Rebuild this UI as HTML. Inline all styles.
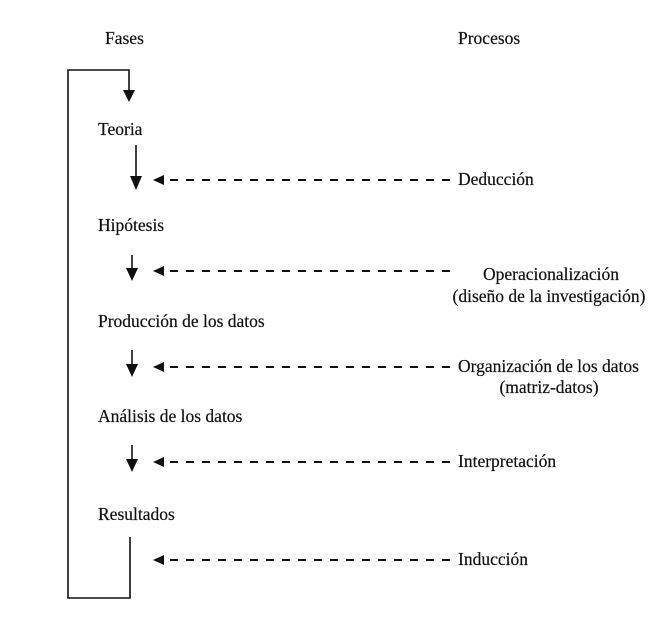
<!DOCTYPE html>
<html><head><meta charset="utf-8"><style>
html,body{margin:0;padding:0;background:#fff;width:670px;height:631px;overflow:hidden}
svg text{font-family:"Liberation Serif",serif;font-size:17.5px;fill:#111;stroke:#111;stroke-width:0.2}
</style></head><body>
<svg width="670" height="631" viewBox="0 0 670 631" xmlns="http://www.w3.org/2000/svg">
<g stroke="#111" stroke-width="1.6" fill="none">
<polyline points="130,537 130,598 68,598 68,70 129,70 129,92"/>
<line x1="136" y1="145" x2="136" y2="178"/>
<line x1="132" y1="255" x2="132" y2="270"/>
<line x1="132" y1="350" x2="132" y2="366"/>
<line x1="132" y1="445" x2="132" y2="461"/>
</g>
<g fill="#111">
<polygon points="123,90 135,90 129,102"/>
<polygon points="130,176 142,176 136,190"/>
<polygon points="126,268 138,268 132,281"/>
<polygon points="126,364 138,364 132,377"/>
<polygon points="126,459 138,459 132,472"/>
<polygon points="153,180 164,175 164,185"/>
<polygon points="153,271 164,266 164,276"/>
<polygon points="153,367 164,362 164,372"/>
<polygon points="153,462 164,457 164,467"/>
<polygon points="153,560 164,555 164,565"/>
</g>
<g stroke="#111" stroke-width="2" stroke-dasharray="8,8">
<line x1="170" y1="180" x2="452" y2="180"/>
<line x1="170" y1="271" x2="452" y2="271"/>
<line x1="170" y1="367" x2="452" y2="367"/>
<line x1="170" y1="462" x2="452" y2="462"/>
<line x1="170" y1="560" x2="452" y2="560"/>
</g>
<text x="105" y="44">Fases</text>
<text x="458" y="44">Procesos</text>
<text x="98" y="135">Teoria</text>
<text x="98" y="231">Hipótesis</text>
<text x="98" y="327">Producción de los datos</text>
<text x="98" y="422">Análisis de los datos</text>
<text x="98" y="520">Resultados</text>
<text x="458" y="185">Deducción</text>
<text x="551" y="280" text-anchor="middle">Operacionalización</text>
<text x="549" y="302" text-anchor="middle">(diseño de la investigación)</text>
<text x="458" y="372">Organización de los datos</text>
<text x="549" y="393" text-anchor="middle">(matriz-datos)</text>
<text x="458" y="467">Interpretación</text>
<text x="458" y="565">Inducción</text>
</svg>
</body></html>
